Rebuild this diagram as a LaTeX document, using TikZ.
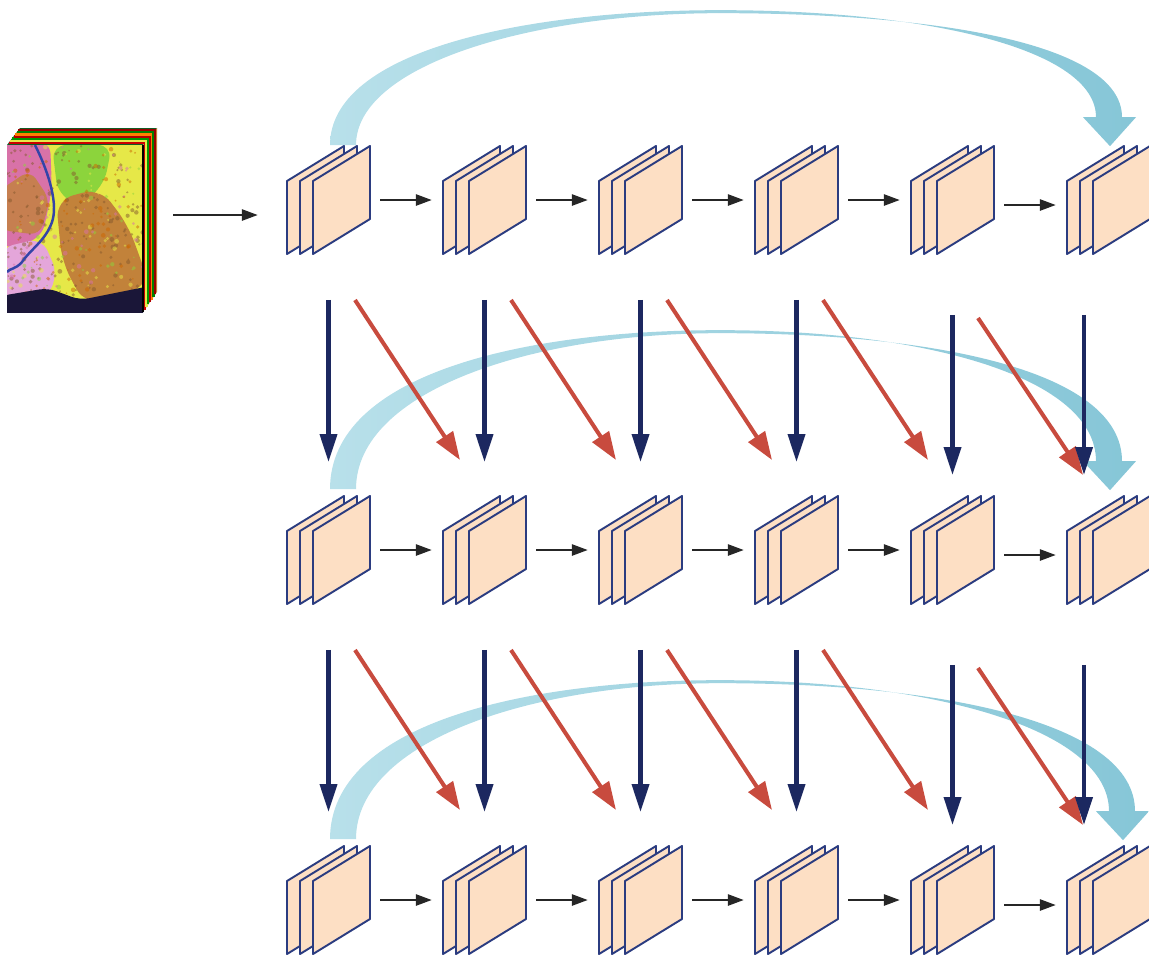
\documentclass[tikz,border=0pt]{standalone}
\usetikzlibrary{arrows.meta}

\definecolor{mapblue}{HTML}{1C2860}
\definecolor{crossred}{HTML}{C84B3E}
\definecolor{peach}{HTML}{FDDFC4}
\definecolor{sheetline}{HTML}{2B3C80}
\definecolor{skiplight}{HTML}{B8E0EA}
\definecolor{skipdark}{HTML}{86C6D7}
\definecolor{landyellow}{HTML}{E6E848}
\definecolor{landgreen}{HTML}{8CD43C}
\definecolor{landpink}{HTML}{D872A8}
\definecolor{landbrown}{HTML}{C2823A}
\definecolor{landlilac}{HTML}{E4A6DA}
\definecolor{landdark}{HTML}{1A1638}
\definecolor{river}{HTML}{3444A8}

\begin{document}
\begin{tikzpicture}[x=0.02cm,y=-0.02cm]
  \tikzset{fmap/.style = {minimum width=1.66cm,minimum height=2.18cm,inner sep=0pt}}
  \tikzset{sheet/.style = {draw=sheetline,fill=peach,line width=1.1pt,line join=round}}
  \tikzset{flow/.style = {-{Triangle[length=9pt,width=6.5pt]},line width=0.8pt,black!85}}
  \tikzset{down/.style = {-{Triangle[length=16pt,width=9.5pt]},line width=2.6pt,mapblue}}
  \tikzset{cross/.style = {-{Triangle[length=16pt,width=11pt]},line width=2.3pt,crossred}}
  \tikzset{skip/.style = {left color=skiplight,right color=skipdark}}

  \useasboundingbox (0,0) rectangle (1149,958);

  % input cube
  \node[minimum width=3cm,minimum height=3.52cm,inner sep=0pt] (hsi) at (82,215) {};
  \fill[landdark!70!green] (7,145) -- (20,128) -- (157,128) -- (143,145) -- cycle;
  \fill[landbrown] (143,145) -- (157,128) -- (157,292) -- (143,312) -- cycle;
  \foreach \f/\col in {0.12/red!80!black,0.25/landyellow,0.38/green!60!black,0.5/red!70!black,0.62/orange,0.75/green!50!black,0.88/red!60!black}
    \draw[\col,line width=1.3pt] ({7+13*\f},{145-17*\f}) -- ({143+14*\f},{145-17*\f}) -- ({143+14*\f},{312-20*\f});
  \begin{scope}
    \clip (7,145) rectangle (143,312);
    \fill[landyellow] (7,145) rectangle (143,312);
    \fill[landgreen,rounded corners=8] (52,145) -- (112,145) -- (104,185) -- (80,205) -- (58,195) -- cycle;
    \fill[landpink,rounded corners=8] (0,140) -- (50,140) -- (52,190) -- (42,238) -- (0,250) -- cycle;
    \fill[landbrown,rounded corners=10] (56,200) -- (100,188) -- (128,225) -- (150,285) -- (85,305) -- (62,262) -- cycle;
    \fill[landbrown!80!landpink,rounded corners=6] (0,190) -- (30,170) -- (50,200) -- (40,235) -- (0,230) -- cycle;
    \fill[landlilac,rounded corners=8] (0,248) -- (42,238) -- (58,275) -- (45,300) -- (0,298) -- cycle;
    \pgfmathsetseed{7}
    \foreach \col/\n in {brown!70!black/160,landyellow/60,landgreen/40,landpink/40,orange!80!black/80}
      \foreach \i in {1,...,\n}
        \fill[\col,opacity=0.5] ({7+136*rnd},{145+150*rnd}) circle ({0.8+1.6*rnd});
    \fill[landdark,rounded corners=5] (0,296) -- (48,288) -- (80,300) -- (110,294) -- (150,286) -- (150,320) -- (0,320) -- cycle;
    \draw[river,line width=1.4pt] (35,145) .. controls (50,175) and (58,205) .. (52,222)
      .. controls (46,240) and (30,250) .. (22,262) .. controls (15,270) and (10,268) .. (7,272);
  \end{scope}
  \draw[black,line width=0.8pt] (143,145) -- (143,312);

  % feature maps
  \foreach \r/\y in {1/200,2/550,3/900}
    \foreach \c in {1,...,6}
      \node[fmap] (s\r\c) at ({328.5+156*(\c-1)},\y) {};

  % skip arcs
  \foreach \r/\p/\v/\h in {1/135/0/0,2/165/-6/0,3/165/-6/13}
    \shade[skip] ([shift={(1.5,\v)}]s\r1.north)
      .. controls +(0,{-0.7*\p}) and +(-196,0) .. ([shift={(391.5,-\p)}]s\r1.north)
      .. controls +(210,0) and +(0,{-0.5*\p}) .. ([shift={({-12.5+\h},{-28+(\v)})}]s\r6.north)
      -- ([shift={({-25.5+\h},{-28+(\v)})}]s\r6.north)
      -- ([shift={({1.5+\h},{1+(\v)})}]s\r6.north)
      -- ([shift={({27.5+\h},{-28+(\v)})}]s\r6.north)
      -- ([shift={({13.5+\h},{-28+(\v)})}]s\r6.north)
      .. controls +(0,{-0.55*\p}) and +(214,0) .. ([shift={(391.5,{3-\p})}]s\r1.north)
      .. controls +(-186,0) and +(0,{-0.6*\p}) .. ([shift={(27.5,\v)}]s\r1.north)
      -- cycle;

  % links between rows
  \foreach \r/\s in {1/2,2/3} {
    \foreach \c/\d/\a/\b/\e/\f in {1/2/26.5/100/-24.5/-90,2/3/26.5/100/-24.5/-90,3/4/26.5/100/-24.5/-90,4/5/26.5/100/-24.5/-90,5/6/25.5/118/-25.5/-75}
      \draw[cross] ([shift={(\a,\b)}]s\r\c.center) -- ([shift={(\e,\f)}]s\s\d.center);
    \foreach \c/\x/\a/\b in {1/0/45/33,2/0/45/33,3/0/45/33,4/0/45/33,5/0/60/20,6/-24.5/60/20}
      \draw[down] ([shift={(\x,\a)}]s\r\c.south) -- ([shift={(\x,-\b)}]s\s\c.north);
  }

  % sheets
  \foreach \r in {1,2,3}
    \foreach \c in {1,...,6}
      \foreach \i in {0,1,2}
        \draw[sheet] ([shift={({-41.5+13*\i},-19)}]s\r\c.center) -- ++(57,-35) -- ++(0,73) -- ++(-57,35) -- cycle;

  % links along rows
  \foreach \r in {1,2,3}
    \foreach \c/\d/\o in {1/2/0,2/3/0,3/4/0,4/5/0,5/6/5}
      \draw[flow,shorten <=0.2cm,shorten >=0.22cm] ([shift={(0,\o)}]s\r\c.east) -- ([shift={(0,\o)}]s\r\d.west);
  \draw[flow,shorten <=0.32cm,shorten >=0.58cm] (hsi.east) -- (hsi.east -| s11.west);
\end{tikzpicture}
\end{document}
